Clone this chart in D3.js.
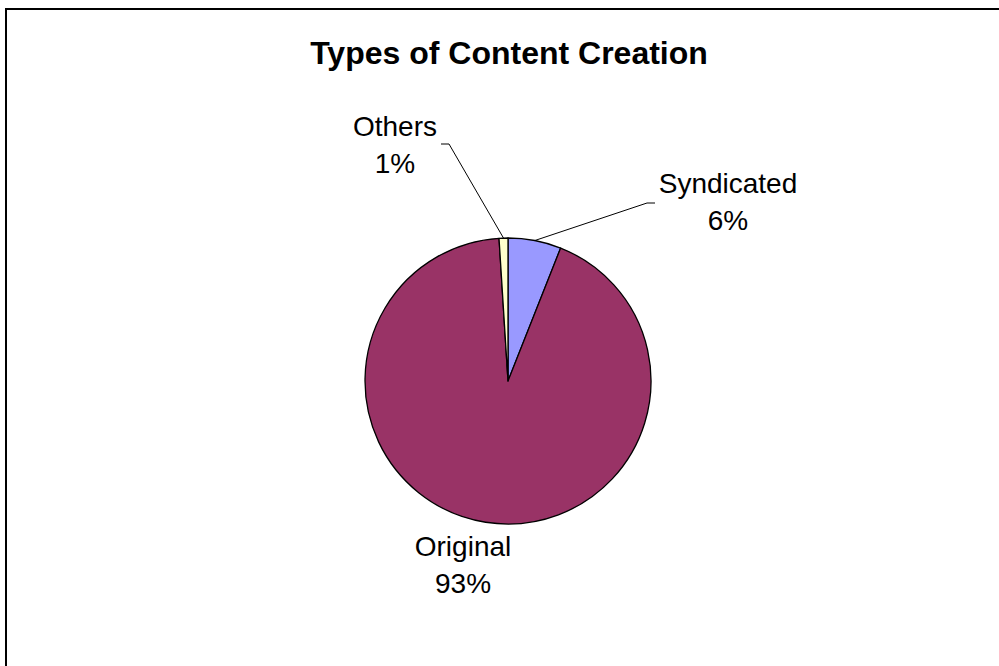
<!DOCTYPE html>
<html>
<head>
<meta charset="utf-8">
<script src="https://cdn.jsdelivr.net/npm/d3@7"></script>
<style>
  html, body { margin: 0; padding: 0; background: #ffffff; }
  svg { display: block; }
  text { font-family: "Liberation Sans", Arial, sans-serif; fill: #000; }
</style>
</head>
<body>
<svg id="chart" width="999" height="666"></svg>
<script>
// Share of content by how it was produced
const categories = ["Syndicated", "Original", "Others"];
const shares = [6, 93, 1];
const sliceColors = ["#9999FF", "#993366", "#FFFFCC"];
const chartTitle = "Types of Content Creation";

const width = 999, height = 666;
const cx = 508, cy = 381, radius = 143;

const svg = d3.select("#chart");

// chart frame (runs off the right and bottom edges)
svg.append("rect")
  .attr("x", 6).attr("y", 9)
  .attr("width", 1000).attr("height", 700)
  .attr("fill", "#fff")
  .attr("stroke", "#000")
  .attr("stroke-width", 2);

svg.append("text")
  .attr("x", 509).attr("y", 64)
  .attr("text-anchor", "middle")
  .attr("font-size", 32)
  .attr("font-weight", "bold")
  .text(chartTitle);

const data = categories.map((c, i) => ({ name: c, value: shares[i], color: sliceColors[i] }));

const pie = d3.pie().sort(null).value(d => d.value);
const arcs = pie(data);
const arc = d3.arc().innerRadius(0).outerRadius(radius);

const g = svg.append("g").attr("transform", `translate(${cx},${cy})`);

g.selectAll("path.slice")
  .data(arcs)
  .join("path")
  .attr("class", "slice")
  .attr("d", arc)
  .attr("fill", d => d.data.color)
  .attr("stroke", "#000")
  .attr("stroke-width", 1.3)
  .attr("stroke-linejoin", "round");

// label placement relative to the pie centre: text centre, first baseline,
// and elbow of the leader line (null when no leader is drawn)
const labelLayout = {
  "Syndicated": { x: 220, y: -188, elbow: [[139, -178], [147, -178]] },
  "Original":   { x: -45, y: 175, elbow: null },
  "Others":     { x: -113, y: -245, elbow: [[-59, -237], [-67, -237]] }
};
const lineGap = 37;

arcs.forEach(a => {
  const lay = labelLayout[a.data.name];
  const mid = (a.startAngle + a.endAngle) / 2;
  if (lay.elbow) {
    const p0 = [Math.sin(mid) * radius, -Math.cos(mid) * radius];
    const pts = [p0, lay.elbow[0], lay.elbow[1]];
    g.append("path")
      .attr("d", d3.line()(pts))
      .attr("fill", "none")
      .attr("stroke", "#000")
      .attr("stroke-width", 1);
  }
  const t = g.append("text")
    .attr("text-anchor", "middle")
    .attr("font-size", 28);
  t.append("tspan").attr("x", lay.x).attr("y", lay.y).text(a.data.name);
  t.append("tspan").attr("x", lay.x).attr("y", lay.y + lineGap).text(a.data.value + "%");
});
</script>
</body>
</html>
